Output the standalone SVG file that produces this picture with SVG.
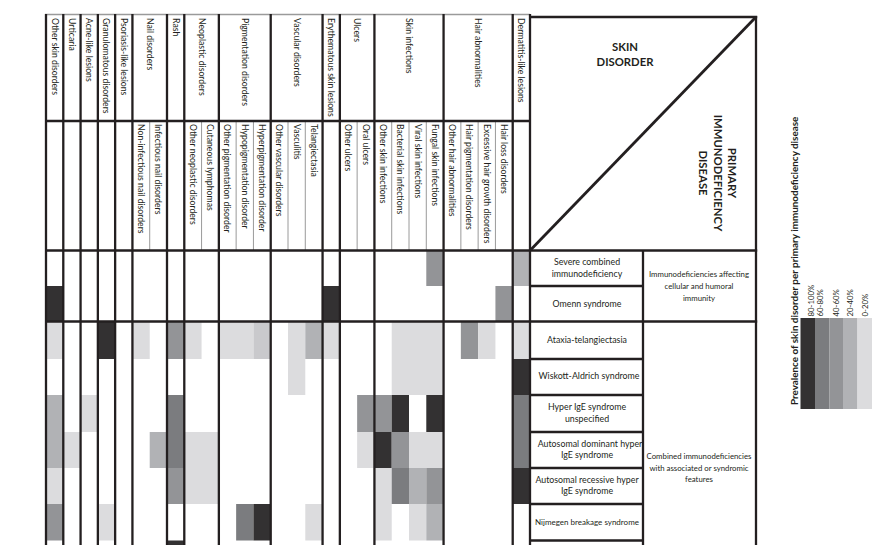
<svg xmlns="http://www.w3.org/2000/svg" width="872" height="545" viewBox="0 0 872 545">
<style>
text{font-family:Lato,"Open Sans","Liberation Sans",sans-serif;fill:#231f20}
.h{font-size:8.7px}
.rl{font-size:8.8px;text-anchor:middle}
.gl{font-size:7.8px;text-anchor:middle}
.t{font-size:11.3px;font-weight:bold;text-anchor:middle}
.lt{font-size:9.9px;font-weight:bold}
.ll{font-size:7.8px}
.k{stroke:#231f20;stroke-width:2.3;fill:none}
.th{stroke:#9a9a9a;stroke-width:1;fill:none}
.c1{fill:#dcdcde}.c2{fill:#b1b2b5}.c3{fill:#939497}.c4{fill:#7b7c7f}.c5{fill:#333132}.cx{fill:#c9c9cc}
</style>
<rect width="872" height="545" fill="#fff"/>

<g id="cells">
<!-- R0 -->
<rect class="c3" x="426.29" y="250.5" width="17.29" height="35.5"/>
<rect class="c2" x="512.71" y="250.5" width="17.29" height="35.5"/>
<!-- R1 -->
<rect class="c5" x="46" y="286" width="17.29" height="35.5"/>
<rect class="c5" x="322.57" y="286" width="17.29" height="35.5"/>
<rect class="c3" x="495.43" y="286" width="17.29" height="35.5"/>
<!-- R2 -->
<rect class="c1" x="46" y="321.5" width="17.29" height="37.5"/>
<rect class="c5" x="97.86" y="321.5" width="17.29" height="37.5"/>
<rect class="c1" x="132.43" y="321.5" width="17.29" height="37.5"/>
<rect class="c3" x="167" y="321.5" width="17.29" height="37.5"/>
<rect class="c1" x="184.29" y="321.5" width="17.29" height="37.5"/>
<rect class="c1" x="218.86" y="321.5" width="34.57" height="37.5"/>
<rect class="cx" x="253.43" y="321.5" width="17.29" height="37.5"/>
<rect class="c1" x="288" y="321.5" width="17.29" height="37.5"/>
<rect class="c2" x="305.29" y="321.5" width="17.29" height="37.5"/>
<rect class="c1" x="322.57" y="321.5" width="17.29" height="37.5"/>
<rect class="c1" x="391.71" y="321.5" width="51.86" height="37.5"/>
<rect class="c3" x="460.86" y="321.5" width="17.29" height="37.5"/>
<rect class="c1" x="478.14" y="321.5" width="17.29" height="37.5"/>
<rect class="c1" x="512.71" y="321.5" width="17.29" height="37.5"/>
<!-- R3 -->
<rect class="c1" x="288" y="359" width="17.29" height="36"/>
<rect class="c1" x="391.71" y="359" width="51.86" height="36"/>
<rect class="c5" x="512.71" y="359" width="17.29" height="36"/>
<!-- R4 -->
<rect class="c2" x="46" y="395" width="17.29" height="73"/>
<rect class="c1" x="80.57" y="395" width="17.29" height="37"/>
<rect class="c4" x="167" y="395" width="17.29" height="73"/>
<rect class="c3" x="357.14" y="395" width="34.57" height="37"/>
<rect class="c5" x="391.71" y="395" width="17.29" height="37"/>
<rect class="c5" x="426.29" y="395" width="17.29" height="37"/>
<rect class="c4" x="512.71" y="395" width="17.29" height="73"/>
<!-- R5 -->
<rect class="c1" x="63.29" y="432" width="17.29" height="36"/>
<rect class="c2" x="149.71" y="432" width="17.29" height="36"/>
<rect class="c1" x="184.29" y="432" width="34.57" height="72"/>
<rect class="c1" x="357.14" y="432" width="17.29" height="36"/>
<rect class="c5" x="374.43" y="432" width="17.29" height="36"/>
<rect class="c3" x="391.71" y="432" width="17.29" height="36"/>
<rect class="c1" x="409" y="432" width="34.57" height="36"/>
<!-- R6 -->
<rect class="c1" x="46" y="468" width="17.29" height="36"/>
<rect class="c3" x="167" y="468" width="17.29" height="36"/>
<rect class="c1" x="374.43" y="468" width="17.29" height="72.5"/>
<rect class="c4" x="391.71" y="468" width="17.29" height="36"/>
<rect class="c2" x="409" y="468" width="17.29" height="36"/>
<rect class="c3" x="426.29" y="468" width="17.29" height="36"/>
<rect class="c5" x="512.71" y="468" width="17.29" height="36"/>
<!-- R7 -->
<rect class="c3" x="46" y="504" width="17.29" height="36.5"/>
<rect class="c1" x="97.86" y="504" width="17.29" height="36.5"/>
<rect class="c4" x="236.14" y="504" width="17.29" height="36.5"/>
<rect class="c5" x="253.43" y="504" width="17.29" height="36.5"/>
<rect class="c1" x="305.29" y="504" width="17.29" height="36.5"/>
<rect class="c1" x="409" y="504" width="17.29" height="36.5"/>
<rect class="c2" x="426.29" y="504" width="17.29" height="36.5"/>
<!-- R8 -->
<rect class="c5" x="167" y="540.5" width="17.29" height="5"/>
</g>

<g id="grid">
<line class="th" x1="45" y1="14.5" x2="530" y2="14.5" style="stroke-width:1.5"/>
<path class="th" d="M149.71 121V250M201.57 121V250M236.14 121V250M253.43 121V250M288 121V250M305.29 121V250M357.14 121V250M391.71 121V250M409 121V250M426.29 121V250M460.86 121V250M478.14 121V250M495.43 121V250"/>
<path class="k" d="M46 121H530M45 250.5H757.2M45 321.5H757.2M530 17H757.2"/>
<path class="k" d="M530 286H643M530 359H643M530 395H643M530 432H643M530 468H643M530 504H643M530 540.5H643"/>
<path class="k" d="M46 14V545M63.29 14V545M80.57 14V545M97.86 14V545M115.14 14V545M132.43 14V545M167 14V545M184.29 14V545M218.86 14V545M270.71 14V545M322.57 14V545M339.86 14V545M374.43 14V545M443.57 14V545M512.71 14V545M530 14V545M643 250.5V545M756 16V545"/>
<line x1="531" y1="249.5" x2="755" y2="18" stroke="#231f20" stroke-width="2.8"/>
</g>

<g id="header-level1" class="h">
<text transform="translate(51.5,18) rotate(90)">Other skin disorders</text>
<text transform="translate(68.8,18) rotate(90)">Urticaria</text>
<text transform="translate(86.1,18) rotate(90)">Acne-like lesions</text>
<text transform="translate(103.4,18) rotate(90)">Granulomatous disorders</text>
<text transform="translate(120.7,18) rotate(90)">Psoriasis-like lesions</text>
<text transform="translate(146.6,18) rotate(90)">Nail disorders</text>
<text transform="translate(172.5,18) rotate(90)">Rash</text>
<text transform="translate(198.5,18) rotate(90)">Neoplastic disorders</text>
<text transform="translate(241.7,18) rotate(90)">Pigmentation disorders</text>
<text transform="translate(293.5,18) rotate(90)">Vascular disorders</text>
<text transform="translate(328.1,18) rotate(90)">Erythematous skin lesions</text>
<text transform="translate(354,18) rotate(90)">Ulcers</text>
<text transform="translate(405.9,18) rotate(90)">Skin infections</text>
<text transform="translate(475,18) rotate(90)">Hair abnormalities</text>
<text transform="translate(518.3,18) rotate(90)">Dermatitis-like lesions</text>
</g>

<g id="header-level2" class="h">
<text transform="translate(137.9,124) rotate(90)">Non-infectious nail disorders</text>
<text transform="translate(155.2,124) rotate(90)">Infectious nail disorders</text>
<text transform="translate(189.8,124) rotate(90)">Other neoplastic disorders</text>
<text transform="translate(207.1,124) rotate(90)">Cutaneous lymphomas</text>
<text transform="translate(224.4,124) rotate(90)">Other pigmentation disorder</text>
<text transform="translate(241.6,124) rotate(90)">Hypopigmentation disorder</text>
<text transform="translate(258.9,124) rotate(90)">Hyperpigmentation disorder</text>
<text transform="translate(276.2,124) rotate(90)">Other vascular disorders</text>
<text transform="translate(293.5,124) rotate(90)">Vasculitis</text>
<text transform="translate(310.8,124) rotate(90)">Telangiectasia</text>
<text transform="translate(345.4,124) rotate(90)">Other ulcers</text>
<text transform="translate(362.6,124) rotate(90)">Oral ulcers</text>
<text transform="translate(379.9,124) rotate(90)">Other skin infections</text>
<text transform="translate(397.2,124) rotate(90)">Bacterial skin infections</text>
<text transform="translate(414.5,124) rotate(90)">Viral skin infections</text>
<text transform="translate(431.8,124) rotate(90)">Fungal skin infections</text>
<text transform="translate(449.1,124) rotate(90)">Other hair abnormalities</text>
<text transform="translate(466.4,124) rotate(90)">Hair pigmentation disorders</text>
<text transform="translate(483.6,124) rotate(90)">Excessive hair growth disorders</text>
<text transform="translate(500.9,124) rotate(90)">Hair loss disorders</text>
</g>

<g id="corner">
<text class="t" x="625" y="51">SKIN</text>
<text class="t" x="625" y="65.5">DISORDER</text>
<text class="t" transform="translate(728,173) rotate(90)">PRIMARY</text>
<text class="t" transform="translate(713.5,173) rotate(90)">IMMUNODEFICIENCY</text>
<text class="t" transform="translate(699,173) rotate(90)">DISEASE</text>
</g>

<g id="row-labels">
<text class="rl" x="587" y="265">Severe combined</text>
<text class="rl" x="587" y="276.5">immunodeficiency</text>
<text class="rl" x="587" y="306.5">Omenn syndrome</text>
<text class="rl" x="587" y="342.5">Ataxia-telangiectasia</text>
<text class="rl" x="589" y="379">Wiskott-Aldrich syndrome</text>
<text class="rl" x="587" y="409.5">Hyper IgE syndrome</text>
<text class="rl" x="587" y="421.5">unspecified</text>
<text class="rl" x="590" y="446.5">Autosomal dominant hyper</text>
<text class="rl" x="587" y="458">IgE syndrome</text>
<text class="rl" x="587" y="482.5">Autosomal recessive hyper</text>
<text class="rl" x="587" y="494">IgE syndrome</text>
<text class="rl" x="587" y="524.5" style="font-size:8px">Nijmegen breakage syndrome</text>
</g>

<g id="group-labels">
<text class="gl" x="699" y="277">Immunodeficiencies affecting</text>
<text class="gl" x="699" y="289">cellular and humoral</text>
<text class="gl" x="699" y="301">immunity</text>
<text class="gl" x="699" y="458.5">Combined immunodeficiencies</text>
<text class="gl" x="699" y="470.5">with associated or syndromic</text>
<text class="gl" x="699" y="482">features</text>
</g>

<g id="legend">
<text class="lt" transform="translate(798,405) rotate(-90)">Prevalence of skin disorder per primary immunodeficiency disease</text>
<rect class="c5" x="800.5" y="318" width="14.5" height="91"/>
<rect class="c4" x="815" y="318" width="14.3" height="91"/>
<rect class="c3" x="829.3" y="318" width="13.7" height="91"/>
<rect class="c2" x="843" y="318" width="14.5" height="91"/>
<rect class="c1" x="857.5" y="318" width="14.5" height="91"/>
<text class="ll" transform="translate(813.5,316.5) rotate(-90)">80-100%</text>
<text class="ll" transform="translate(822.5,316.5) rotate(-90)">60-80%</text>
<text class="ll" transform="translate(838.5,316.5) rotate(-90)">40-60%</text>
<text class="ll" transform="translate(853,316.5) rotate(-90)">20-40%</text>
<text class="ll" transform="translate(868,316.5) rotate(-90)">0-20%</text>
</g>
</svg>
